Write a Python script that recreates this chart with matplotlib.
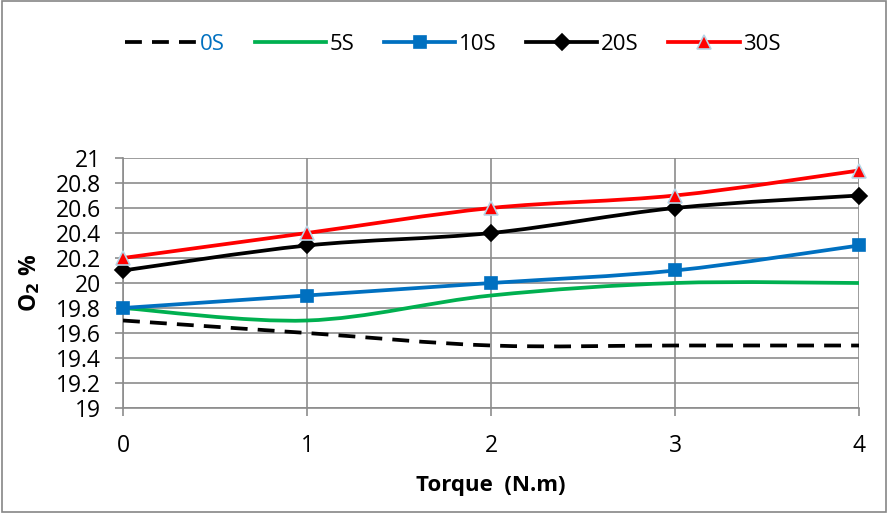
import matplotlib.pyplot as plt
from matplotlib.path import Path
from matplotlib.patches import PathPatch, Rectangle
from matplotlib.lines import Line2D

plt.rcParams['font.family'] = ['Open Sans', 'DejaVu Sans']

torque = [0, 1, 2, 3, 4]
o2_0s = [19.7, 19.6, 19.5, 19.5, 19.5]
o2_5s = [19.8, 19.7, 19.9, 20.0, 20.0]
o2_10s = [19.8, 19.9, 20.0, 20.1, 20.3]
o2_20s = [20.1, 20.3, 20.4, 20.6, 20.7]
o2_30s = [20.2, 20.4, 20.6, 20.7, 20.9]
yticks = [19, 19.2, 19.4, 19.6, 19.8, 20, 20.2, 20.4, 20.6, 20.8, 21]
ytick_labels = ['19', '19.2', '19.4', '19.6', '19.8', '20', '20.2', '20.4', '20.6', '20.8', '21']


def smooth_path(xs, ys):
    # excel-like smoothed line as cubic bezier segments
    pts = list(zip(xs, ys))
    n = len(pts)
    verts = [pts[0]]
    codes = [Path.MOVETO]
    for i in range(n - 1):
        p0 = pts[max(i - 1, 0)]
        p1 = pts[i]
        p2 = pts[i + 1]
        p3 = pts[min(i + 2, n - 1)]
        c1 = (p1[0] + (p2[0] - p0[0]) / 6, p1[1] + (p2[1] - p0[1]) / 6)
        c2 = (p2[0] - (p3[0] - p1[0]) / 6, p2[1] - (p3[1] - p1[1]) / 6)
        verts += [c1, c2, p2]
        codes += [Path.CURVE4] * 3
    return Path(verts, codes)


fig = plt.figure(figsize=(8.88, 5.13), dpi=100)
ax = fig.add_axes([123 / 888, 1 - 408 / 513, (859 - 123) / 888, (408 - 158) / 513])

lw = 2.7
series = [
    ('0S', o2_0s, 'black', (0, (4.5, 2.7)), 'none', 'black', 6),
    ('5S', o2_5s, '#00B050', '-', 'none', '#00B050', 6),
    ('10S', o2_10s, '#0070C0', '-', 's', '#0070C0', 9),
    ('20S', o2_20s, 'black', '-', 'D', 'black', 8),
    ('30S', o2_30s, '#FF0000', '-', '^', '#B7D5E6', 10),
]

handles = []
for name, vals, col, ls, mk, mec, ms in series:
    patch = PathPatch(smooth_path(torque, vals), facecolor='none', edgecolor=col,
                      lw=lw, linestyle=ls, zorder=3, capstyle='butt')
    ax.add_patch(patch)
    if mk != 'none':
        ax.plot(torque, vals, linestyle='none', marker=mk, color=col, mec=mec,
                mew=1.2, ms=ms, zorder=4, clip_on=False)
    handles.append(Line2D([], [], color=col, lw=lw, linestyle=ls, marker=mk,
                          mec=mec, mew=1.2, ms=ms, dash_capstyle='butt'))

ax.set_xlim(0, 4)
ax.set_ylim(19, 21)
ax.set_xticks(torque)
ax.set_yticks(yticks)
ax.set_yticklabels(ytick_labels)
ax.grid(True, color='#8c8c8c', lw=1.2)
ax.set_axisbelow(True)
for s in ['top', 'right']:
    ax.spines[s].set_visible(False)
for s in ['left', 'bottom']:
    ax.spines[s].set_color('#8c8c8c')
    ax.spines[s].set_linewidth(1.2)
ax.tick_params(axis='y', length=6, width=1.2, color='#8c8c8c', pad=10, labelsize=16.5)
ax.tick_params(axis='x', length=6, width=1.2, color='#8c8c8c', pad=13, labelsize=16.5)
ax.set_xlabel('Torque  (N.m)', fontsize=16, fontweight='bold', labelpad=12)
ax.set_ylabel('O$_\\mathbf{2}$ %', fontsize=16.5, fontweight='bold', labelpad=10)

leg = fig.legend(handles, [s[0] for s in series], loc='center', ncol=5,
                 bbox_to_anchor=(0.51, 1 - 44 / 513), frameon=False, fontsize=16,
                 handlelength=3.2, handletextpad=0.15, columnspacing=1.35)
leg.get_texts()[0].set_color('#0070C0')

fig.patches.append(Rectangle((0.002, 0.002), 0.996, 0.996, transform=fig.transFigure,
                             fill=False, edgecolor='#868686', lw=1.2))

fig.savefig('out.png', dpi=100)
